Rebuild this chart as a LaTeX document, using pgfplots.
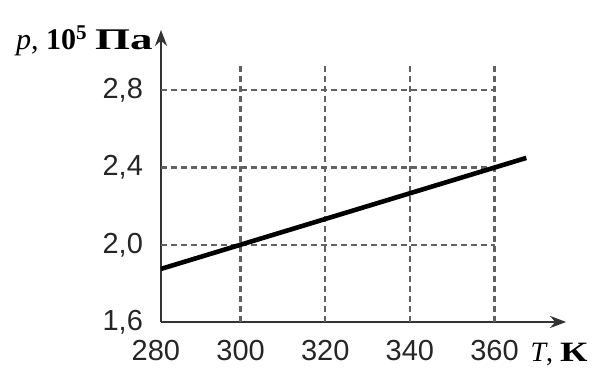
\documentclass[border=0pt]{standalone}
\usepackage{fontspec}
\setmainfont{Liberation Sans}
\newfontfamily\serif{Liberation Serif}
\usepackage{graphicx}
\usepackage{pgfplots}
\pgfplotsset{compat=1.18}
\usetikzlibrary{arrows.meta}
\begin{document}
\fontsize{14.5}{17}\selectfont
\begin{tikzpicture}
\begin{axis}[
  scale only axis, width=202.5pt, height=146pt,
  xmin=281.2, xmax=376.9, ymin=1.6, ymax=3.113,
  axis lines=left,
  axis line style={line width=1.4pt, color=black!80, -{Stealth[length=8pt,width=6pt]}},
  clip=false,
  major tick length=0pt,
  xtick={300,320,340,360}, xticklabels={300,320,340,360},
  ytick={1.6,2.0,2.4,2.8}, yticklabels={{1,6},{2,0},{2,4},{2,8}},
  tick label style={font=\fontsize{14.5}{17}\selectfont, text=black!85},
  xticklabel style={yshift=-4pt},
  yticklabel style={xshift=-4pt},
  gridline/.style={black!62, line width=1.1pt, dash pattern=on 3pt off 2pt},
]
% invisible frame giving the picture its proportions
\path (axis cs:243.16,1.3772) rectangle (axis cs:384.2,3.268);
% grid
\addplot[gridline] coordinates {(300,1.6) (300,2.937)};
\addplot[gridline] coordinates {(320,1.6) (320,2.937)};
\addplot[gridline] coordinates {(340,1.6) (340,2.937)};
\addplot[gridline] coordinates {(360,1.6) (360,2.937)};
\addplot[gridline] coordinates {(281.2,2.0) (360,2.0)};
\addplot[gridline] coordinates {(281.2,2.4) (360,2.4)};
\addplot[gridline] coordinates {(281.2,2.8) (360,2.8)};
% data
\addplot[black, line width=2.3pt] coordinates {(281.2,1.875) (367.5,2.45)};
% extra tick label at 280 and axis labels
\node[anchor=north, inner sep=0pt, text=black!85] at (axis cs:280,1.6) [yshift=-9pt] {280};
\node[anchor=base east, inner sep=0pt] at (axis cs:281.2,3.01) [xshift=-4pt]
  {\fontsize{15}{17}\selectfont\serif\textit{p}, \textbf{10\textsuperscript{5}} \textbf{\scalebox{1.5}[1]{Па}}};
\node[anchor=base west, inner sep=0pt] at (axis cs:368.4,1.393)
  {\fontsize{14}{16}\selectfont\serif\textit{T}, \textbf{\scalebox{1.35}[1]{К}}};
\end{axis}
\end{tikzpicture}
\end{document}
